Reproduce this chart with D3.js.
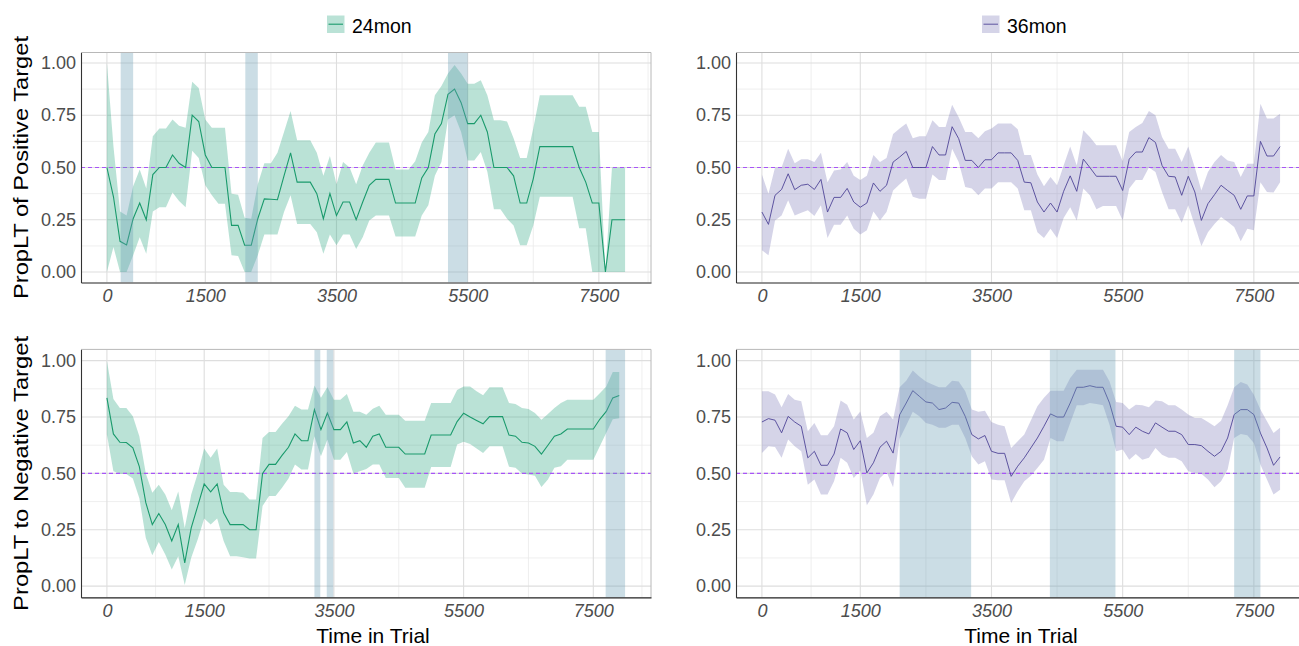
<!DOCTYPE html>
<html>
<head>
<meta charset="utf-8">
<script src="https://cdn.jsdelivr.net/npm/d3@7/dist/d3.min.js"></script>
<style>
  html, body { margin: 0; padding: 0; background: #fff; }
  svg { display: block; font-family: "Liberation Sans", Arial, sans-serif; }
</style>
</head>
<body>
<svg id="chart" width="1299" height="646"></svg>
<script>
// ---------------- DATA ----------------
const timeMs = [0,100,200,300,400,500,600,700,800,900,1000,1100,1200,1300,1400,1500,1600,1700,1800,1900,
  2000,2100,2200,2300,2400,2500,2600,2700,2800,2900,3000,3100,3200,3300,3400,3500,3600,3700,3800,3900,
  4000,4100,4200,4300,4400,4500,4600,4700,4800,4900,5000,5100,5200,5300,5400,5500,5600,5700,5800,5900,
  6000,6100,6200,6300,6400,6500,6600,6700,6800,6900,7000,7100,7200,7300,7400,7500,7600,7700,7800,7900];

const xTickValues = [0, 1500, 3500, 5500, 7500];
const yTickValues = [0, 0.25, 0.5, 0.75, 1];
const groupLabels = ["24mon", "36mon"];
const yTitles = ["PropLT of Positive Target", "PropLT to Negative Target"];
const xTitle = "Time in Trial";
const chanceLevel = 0.5;

// 24mon, positive target
const pos24Mean = [0.50,0.36,0.147,0.13,0.255,0.33,0.25,0.466,0.5,0.5,0.56,0.52,0.5,0.75,0.72,0.56,0.5,0.5,0.5,0.223,
  0.223,0.128,0.128,0.255,0.35,0.348,0.346,0.46,0.57,0.43,0.43,0.43,0.375,0.255,0.375,0.27,0.335,0.335,0.25,0.335,
  0.415,0.443,0.443,0.443,0.33,0.33,0.33,0.33,0.45,0.5,0.66,0.71,0.85,0.875,0.81,0.71,0.71,0.75,0.67,0.5,
  0.5,0.5,0.46,0.33,0.33,0.446,0.6,0.6,0.6,0.6,0.6,0.6,0.5,0.43,0.33,0.33,0,0.25,0.25,0.25];
const pos24Hi = [1.0,0.6,0.29,0.27,0.41,0.49,0.40,0.65,0.686,0.686,0.73,0.70,0.69,0.91,0.88,0.73,0.69,0.69,0.69,0.375,
  0.37,0.26,0.255,0.42,0.52,0.52,0.57,0.67,0.77,0.63,0.63,0.63,0.57,0.46,0.555,0.42,0.526,0.5,0.42,0.51,
  0.57,0.62,0.62,0.62,0.49,0.49,0.49,0.53,0.62,0.67,0.845,0.89,0.95,0.99,0.95,0.9,0.9,0.917,0.845,0.726,
  0.726,0.72,0.64,0.545,0.545,0.686,0.845,0.845,0.845,0.845,0.845,0.845,0.79,0.79,0.67,0.67,0,0.5,0.5,0.5];
const pos24Lo = [0,0.12,0,0,0.08,0.167,0.088,0.29,0.31,0.31,0.38,0.34,0.31,0.58,0.545,0.415,0.367,0.327,0.327,0.08,
  0.077,0,0,0.08,0.18,0.18,0.18,0.287,0.367,0.23,0.23,0.23,0.19,0.088,0.18,0.128,0.18,0.18,0.11,0.167,
  0.247,0.27,0.27,0.27,0.17,0.17,0.17,0.17,0.27,0.32,0.46,0.526,0.73,0.75,0.67,0.534,0.534,0.574,0.48,0.3,
  0.3,0.255,0.223,0.128,0.128,0.223,0.36,0.36,0.36,0.36,0.36,0.36,0.21,0.21,0,0,0,0,0,0];

// 36mon, positive target
const pos36Mean = [0.287,0.228,0.367,0.395,0.47,0.394,0.415,0.42,0.395,0.443,0.287,0.357,0.357,0.4,0.335,0.31,0.33,0.426,0.386,0.415,
  0.526,0.55,0.577,0.5,0.5,0.5,0.6,0.56,0.56,0.695,0.638,0.534,0.534,0.5,0.537,0.537,0.57,0.57,0.57,0.534,
  0.43,0.427,0.335,0.287,0.33,0.287,0.386,0.46,0.386,0.54,0.5,0.458,0.458,0.458,0.458,0.39,0.54,0.574,0.574,0.643,
  0.62,0.51,0.458,0.455,0.367,0.458,0.383,0.247,0.327,0.37,0.415,0.39,0.367,0.3,0.364,0.364,0.625,0.555,0.555,0.6];
const pos36Hi = [0.466,0.375,0.5,0.5,0.59,0.52,0.54,0.54,0.526,0.57,0.43,0.486,0.49,0.526,0.46,0.44,0.46,0.56,0.526,0.545,
  0.66,0.686,0.71,0.64,0.65,0.65,0.726,0.694,0.694,0.8,0.74,0.67,0.67,0.64,0.673,0.686,0.71,0.71,0.71,0.683,
  0.56,0.56,0.466,0.41,0.455,0.415,0.51,0.6,0.51,0.678,0.646,0.606,0.606,0.606,0.606,0.53,0.67,0.694,0.713,0.77,
  0.75,0.646,0.59,0.59,0.526,0.6,0.5,0.39,0.478,0.526,0.56,0.534,0.526,0.455,0.518,0.518,0.805,0.734,0.734,0.757];
const pos36Lo = [0.104,0.08,0.247,0.27,0.343,0.27,0.284,0.295,0.268,0.32,0.163,0.226,0.226,0.27,0.207,0.18,0.2,0.29,0.247,0.287,
  0.39,0.42,0.447,0.36,0.35,0.35,0.466,0.44,0.44,0.59,0.526,0.407,0.4,0.367,0.4,0.4,0.43,0.43,0.43,0.4,
  0.295,0.295,0.19,0.163,0.207,0.163,0.258,0.31,0.247,0.4,0.367,0.3,0.316,0.316,0.316,0.247,0.4,0.44,0.44,0.5,
  0.478,0.383,0.3,0.3,0.236,0.32,0.223,0.124,0.19,0.23,0.263,0.24,0.215,0.147,0.207,0.2,0.43,0.383,0.38,0.43];

// 24mon, negative target
const neg24Mean = [0.835,0.675,0.638,0.637,0.613,0.53,0.37,0.273,0.322,0.273,0.2,0.273,0.103,0.258,0.355,0.453,0.418,0.453,0.325,0.273,
  0.273,0.273,0.25,0.25,0.5,0.54,0.54,0.58,0.616,0.675,0.645,0.645,0.783,0.694,0.768,0.694,0.694,0.728,0.635,0.645,
  0.616,0.665,0.675,0.616,0.616,0.616,0.586,0.586,0.586,0.586,0.67,0.67,0.67,0.67,0.73,0.767,0.75,0.735,0.72,0.752,
  0.752,0.752,0.67,0.665,0.638,0.635,0.62,0.586,0.625,0.665,0.675,0.697,0.697,0.697,0.697,0.697,0.74,0.775,0.835,0.846];
const neg24Hi = [1.0,0.83,0.79,0.79,0.753,0.665,0.5,0.414,0.45,0.406,0.337,0.42,0.258,0.406,0.5,0.61,0.569,0.61,0.45,0.418,
  0.418,0.414,0.384,0.384,0.657,0.684,0.684,0.72,0.753,0.8,0.783,0.783,0.89,0.835,0.883,0.827,0.827,0.852,0.773,0.773,
  0.76,0.787,0.8,0.76,0.76,0.76,0.734,0.734,0.734,0.734,0.812,0.812,0.812,0.812,0.87,0.886,0.886,0.864,0.847,0.882,
  0.882,0.882,0.812,0.808,0.79,0.786,0.768,0.738,0.764,0.79,0.812,0.827,0.827,0.827,0.827,0.827,0.856,0.886,0.95,0.95];
const neg24Lo = [0.672,0.51,0.498,0.497,0.477,0.39,0.214,0.137,0.196,0.14,0.074,0.133,0.005,0.126,0.207,0.3,0.273,0.3,0.2,0.133,
  0.133,0.128,0.123,0.123,0.355,0.4,0.4,0.436,0.477,0.54,0.517,0.517,0.665,0.576,0.65,0.56,0.56,0.595,0.5,0.51,
  0.52,0.54,0.54,0.48,0.48,0.48,0.436,0.436,0.436,0.436,0.528,0.528,0.528,0.528,0.628,0.64,0.63,0.61,0.59,0.62,
  0.62,0.62,0.529,0.525,0.5,0.495,0.49,0.44,0.473,0.525,0.532,0.56,0.56,0.56,0.56,0.56,0.62,0.68,0.74,0.745];

// 36mon, negative target
const neg36Mean = [0.728,0.743,0.736,0.68,0.753,0.728,0.709,0.569,0.598,0.536,0.536,0.586,0.697,0.68,0.606,0.645,0.502,0.547,0.616,0.643,
  0.59,0.76,0.812,0.867,0.842,0.817,0.812,0.783,0.79,0.815,0.812,0.753,0.672,0.653,0.668,0.598,0.589,0.589,0.487,0.532,
  0.569,0.613,0.657,0.709,0.764,0.75,0.75,0.812,0.882,0.882,0.889,0.882,0.882,0.812,0.709,0.705,0.672,0.705,0.687,0.675,
  0.724,0.705,0.687,0.687,0.672,0.628,0.628,0.623,0.598,0.576,0.598,0.657,0.761,0.783,0.783,0.761,0.679,0.613,0.536,0.573];
const neg36Hi = [0.864,0.864,0.85,0.793,0.852,0.827,0.82,0.687,0.724,0.669,0.669,0.709,0.823,0.805,0.739,0.775,0.657,0.68,0.753,0.773,
  0.739,0.882,0.911,0.956,0.93,0.908,0.894,0.882,0.882,0.911,0.908,0.864,0.783,0.773,0.778,0.728,0.716,0.709,0.613,0.643,
  0.672,0.735,0.798,0.835,0.867,0.867,0.867,0.923,0.96,0.96,0.96,0.96,0.96,0.908,0.817,0.812,0.783,0.805,0.802,0.793,
  0.823,0.82,0.802,0.802,0.783,0.761,0.746,0.746,0.728,0.709,0.734,0.802,0.882,0.905,0.894,0.849,0.783,0.731,0.679,0.702];
const neg36Lo = [0.59,0.62,0.617,0.569,0.65,0.62,0.598,0.45,0.473,0.406,0.406,0.465,0.569,0.547,0.48,0.513,0.359,0.406,0.48,0.507,
  0.439,0.654,0.713,0.773,0.753,0.724,0.716,0.702,0.702,0.716,0.716,0.657,0.576,0.539,0.554,0.473,0.47,0.47,0.369,0.421,
  0.465,0.49,0.524,0.561,0.657,0.643,0.643,0.724,0.802,0.802,0.812,0.808,0.802,0.716,0.598,0.606,0.561,0.586,0.561,0.569,
  0.613,0.583,0.569,0.569,0.554,0.51,0.502,0.498,0.473,0.439,0.465,0.517,0.657,0.675,0.669,0.635,0.539,0.473,0.406,0.428];

// significant windows (start, end in ms)
const pos24SigStart = [210, 2110, 5200];
const pos24SigEnd   = [400, 2300, 5500];
const pos36SigStart = [];
const pos36SigEnd   = [];
const neg24SigStart = [3200, 3390, 7690];
const neg24SigEnd   = [3290, 3490, 7990];
const neg36SigStart = [2100, 4390, 7200];
const neg36SigEnd   = [3190, 5390, 7600];

// ---------------- STYLE / LAYOUT ----------------
const groupStyle = [
  { line: "#1a9a6c", fill: "#1B9E77", lw: 1.1 },
  { line: "#4f4597", fill: "#7570B3", lw: 0.9 }
];
const font = '"Liberation Sans", Arial, sans-serif';

const panels = [
  { mean: pos24Mean, hi: pos24Hi, lo: pos24Lo, s: pos24SigStart, e: pos24SigEnd, g: 0, row: 0,
    left: 81, top: 52.5, width: 570, height: 230 },
  { mean: pos36Mean, hi: pos36Hi, lo: pos36Lo, s: pos36SigStart, e: pos36SigEnd, g: 1, row: 0,
    left: 736, top: 52.5, width: 570, height: 230 },
  { mean: neg24Mean, hi: neg24Hi, lo: neg24Lo, s: neg24SigStart, e: neg24SigEnd, g: 0, row: 1,
    left: 81, top: 349.4, width: 570, height: 248 },
  { mean: neg36Mean, hi: neg36Hi, lo: neg36Lo, s: neg36SigStart, e: neg36SigEnd, g: 1, row: 1,
    left: 736, top: 349.4, width: 570, height: 248 }
];

const svg = d3.select("#chart");

panels.forEach((p, pi) => {
  const st = groupStyle[p.g];
  const xmin = d3.min([d3.min(timeMs), d3.min(p.s) ?? Infinity]);
  const xmax = d3.max([d3.max(timeMs), d3.max(p.e) ?? -Infinity]);
  const xpad = (xmax - xmin) * 0.05;
  const x = d3.scaleLinear().domain([xmin - xpad, xmax + xpad]).range([p.left, p.left + p.width]);
  const y = d3.scaleLinear().domain([-0.05, 1.05]).range([p.top + p.height, p.top]);

  const g = svg.append("g");
  const clipId = "clip" + pi;
  g.append("clipPath").attr("id", clipId).append("rect")
    .attr("x", p.left).attr("y", p.top).attr("width", p.width).attr("height", p.height);
  const inner = g.append("g").attr("clip-path", `url(#${clipId})`);

  // minor grid
  const majorX = xTickValues;
  const bd = majorX[1] - majorX[0];
  const ext = [majorX[0] - bd, ...majorX, majorX[majorX.length - 1] + bd];
  const minorX = d3.pairs(ext).map(([a, b]) => (a + b) / 2);
  const minorY = d3.pairs([-0.25, ...yTickValues, 1.25]).map(([a, b]) => (a + b) / 2);

  inner.selectAll(".mnx").data(minorX).join("line")
    .attr("x1", d => x(d)).attr("x2", d => x(d)).attr("y1", p.top).attr("y2", p.top + p.height)
    .attr("stroke", "#ebebeb").attr("stroke-width", 0.8);
  inner.selectAll(".mny").data(minorY).join("line")
    .attr("y1", d => y(d)).attr("y2", d => y(d)).attr("x1", p.left).attr("x2", p.left + p.width)
    .attr("stroke", "#ebebeb").attr("stroke-width", 0.8);
  inner.selectAll(".mjx").data(majorX).join("line")
    .attr("x1", d => x(d)).attr("x2", d => x(d)).attr("y1", p.top).attr("y2", p.top + p.height)
    .attr("stroke", "#dedede").attr("stroke-width", 1.1);
  inner.selectAll(".mjy").data(yTickValues).join("line")
    .attr("y1", d => y(d)).attr("y2", d => y(d)).attr("x1", p.left).attr("x2", p.left + p.width)
    .attr("stroke", "#dedede").attr("stroke-width", 1.1);

  // ribbon
  const rows = timeMs.map((t, i) => ({ t, m: p.mean[i], hi: p.hi[i], lo: p.lo[i] }));
  inner.append("path").datum(rows)
    .attr("d", d3.area().x(d => x(d.t)).y0(d => y(d.lo)).y1(d => y(d.hi)))
    .attr("fill", st.fill).attr("fill-opacity", 0.3);

  // chance line
  inner.append("line")
    .attr("x1", p.left).attr("x2", p.left + p.width).attr("y1", y(chanceLevel)).attr("y2", y(chanceLevel))
    .attr("stroke", "#a855f7").attr("stroke-width", 1.1).attr("stroke-dasharray", "4,3");

  // mean line
  inner.append("path").datum(rows)
    .attr("d", d3.line().x(d => x(d.t)).y(d => y(d.m)))
    .attr("fill", "none").attr("stroke", st.line).attr("stroke-width", st.lw);

  // significant windows
  const sig = p.s.map((s, i) => ({ s, e: p.e[i] }));
  inner.selectAll(".sig").data(sig).join("rect")
    .attr("x", d => x(d.s)).attr("width", d => x(d.e) - x(d.s))
    .attr("y", p.top).attr("height", p.height)
    .attr("fill", "#6A9FB5").attr("fill-opacity", 0.35);

  // panel border (top/right)
  g.append("line").attr("x1", p.left).attr("x2", p.left + p.width).attr("y1", p.top).attr("y2", p.top)
    .attr("stroke", "#b8b8b8").attr("stroke-width", 1);
  g.append("line").attr("x1", p.left + p.width).attr("x2", p.left + p.width).attr("y1", p.top).attr("y2", p.top + p.height)
    .attr("stroke", "#b8b8b8").attr("stroke-width", 1);

  // axes via d3
  const xAxis = d3.axisBottom(x).tickValues(xTickValues).tickSize(0).tickPadding(7).tickFormat(d3.format("d"));
  const ax = g.append("g").attr("transform", `translate(0,${p.top + p.height})`).call(xAxis);
  ax.select(".domain").attr("stroke", "#222").attr("stroke-width", 1.1);
  ax.selectAll(".tick text").attr("font-family", font).attr("font-size", 18).attr("font-style", "italic")
    .attr("fill", "#4d4d4d");

  const yAxis = d3.axisLeft(y).tickValues(yTickValues).tickSize(0).tickPadding(5).tickFormat(d3.format(".2f"));
  const ay = g.append("g").attr("transform", `translate(${p.left},0)`).call(yAxis);
  ay.select(".domain").attr("stroke", "#333").attr("stroke-width", 1.1);
  ay.selectAll(".tick text").attr("font-family", font).attr("font-size", 18).attr("fill", "#4d4d4d");

  // y title (left column only)
  if (p.g === 0) {
    svg.append("text")
      .attr("transform", `translate(28,${p.top + p.height / 2}) rotate(-90)`)
      .attr("text-anchor", "middle").attr("font-family", font).attr("font-size", 21).attr("fill", "#000")
      .attr("textLength", p.row === 0 ? 263 : 275).attr("lengthAdjust", "spacingAndGlyphs")
      .text(yTitles[p.row]);
  }
  // x title (bottom row)
  if (p.row === 1) {
    svg.append("text")
      .attr("x", p.left + p.width / 2 + (p.g === 0 ? 7 : 0)).attr("y", 643)
      .attr("text-anchor", "middle").attr("font-family", font).attr("font-size", 21).attr("fill", "#000")
      .text(xTitle);
  }
  // legend (top row)
  if (p.row === 0) {
    const keyX = p.g === 0 ? 327 : 982;
    const lg = svg.append("g");
    lg.append("rect").attr("x", keyX).attr("y", 15.5).attr("width", 17.5).attr("height", 17.5)
      .attr("fill", st.fill).attr("fill-opacity", 0.3);
    lg.append("line").attr("x1", keyX + 1.5).attr("x2", keyX + 16).attr("y1", 24.2).attr("y2", 24.2)
      .attr("stroke", st.line).attr("stroke-width", st.lw);
    lg.append("text").attr("x", keyX + 25).attr("y", 32.5)
      .attr("font-family", font).attr("font-size", 19.5).attr("fill", "#000")
      .text(groupLabels[p.g]);
  }
});
</script>
</body>
</html>
